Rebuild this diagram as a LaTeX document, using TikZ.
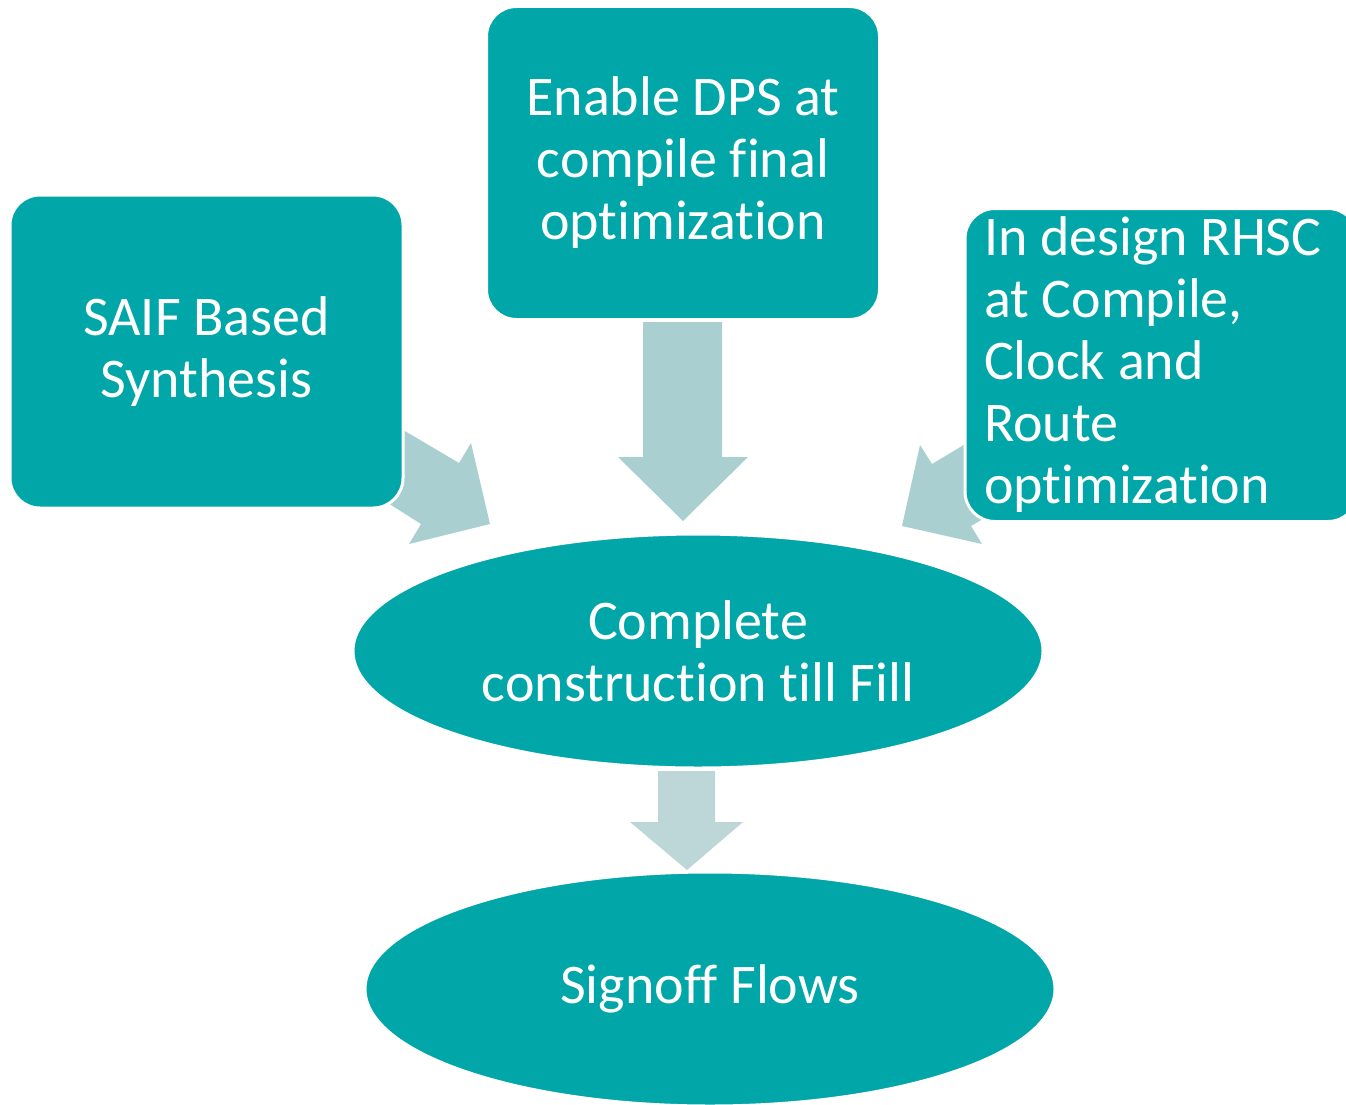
\documentclass[tikz,border=0pt]{standalone}
\usepackage{fontspec}
\setmainfont{Carlito}[Ligatures={NoCommon}]
\usetikzlibrary{shapes.geometric}
\definecolor{teal1}{HTML}{00A6A8}
\definecolor{arrowc}{HTML}{AACFD1}
\definecolor{arrowd}{HTML}{BDD6D8}
\begin{document}
\begin{tikzpicture}[x=1pt,y=-1pt,
  box/.style={draw=white,line width=3pt,fill=teal1,rounded corners=30pt,
    minimum width=393pt,minimum height=313pt,text=white,font=\fontsize{56}{62}\selectfont,
    inner sep=0pt},
  oval/.style={ellipse,draw=white,line width=3pt,fill=teal1,minimum width=690pt,
    minimum height=234pt,text=white,font=\fontsize{56}{62}\selectfont,inner sep=0pt},
  blockarrow/.style={fill=arrowc,draw=none}]
\useasboundingbox (0,0) rectangle (1346,1105);
\clip (0,0) rectangle (1346,1105);
% block arrows (behind boxes)
\fill[blockarrow] (371,411) -- (459,463) -- (471,443) -- (490,524) -- (409,544) -- (421,524) -- (358,484) -- cycle;
\fill[blockarrow] (992,428) -- (932,464) -- (920,445) -- (902,526) -- (982,544) -- (971,526) -- (1002,508) -- cycle;
\fill[blockarrow] (643,322) -- (722,322) -- (722,457) -- (748,457) -- (683,521) -- (618,457) -- (643,457) -- cycle;
\fill[fill=arrowd] (658,771) -- (715,771) -- (715,822) -- (743,822) -- (687,870) -- (630,822) -- (658,822) -- cycle;
% boxes
\node[box,align=center] (saif) at (206.5,351.5) {SAIF Based\\Synthesis};
\node[box,align=center] (dps) at (683,163) {Enable DPS at\\compile final\\optimization};
\node[box,align=flush left,text width=355pt] (rhsc) at (1161.5,365) {In design RHSC\\at Compile,\\Clock and\\Route\\optimization};
\node[oval,align=center] (ccf) at (698,651) {Complete\\construction till Fill};
\node[oval,align=center] (sof) at (710,989) {Signoff Flows};
\end{tikzpicture}
\end{document}
